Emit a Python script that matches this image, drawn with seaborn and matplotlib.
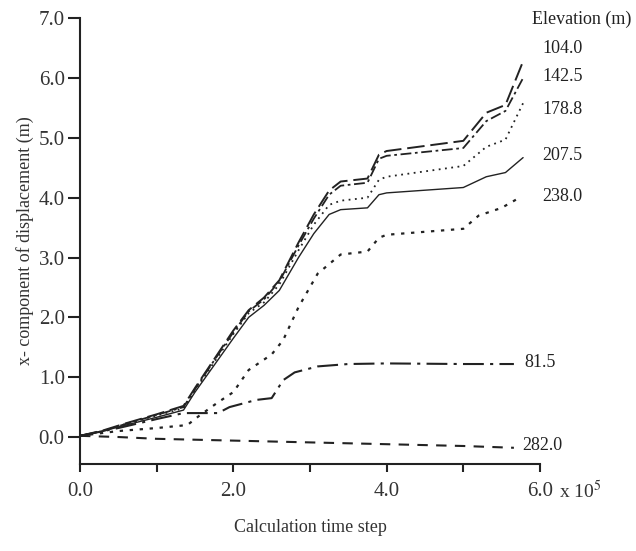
import numpy as np
import pandas as pd
import matplotlib
matplotlib.use("Agg")
import matplotlib.pyplot as plt
import seaborn as sns

# ---- data ----
x_main = [0, 0.3, 0.6, 1.0, 1.35, 1.5, 1.75, 2.0, 2.2, 2.4, 2.6, 2.85, 3.05, 3.25, 3.4, 3.75, 3.9, 4.0, 5.0, 5.3, 5.55, 5.78]
y_104 = [0.02, 0.11, 0.23, 0.38, 0.52, 0.82, 1.30, 1.78, 2.12, 2.33, 2.62, 3.25, 3.72, 4.12, 4.27, 4.32, 4.72, 4.78, 4.95, 5.42, 5.55, 6.28]
y_142 = [0.02, 0.10, 0.22, 0.37, 0.50, 0.80, 1.28, 1.75, 2.10, 2.30, 2.60, 3.20, 3.65, 4.05, 4.20, 4.25, 4.65, 4.70, 4.83, 5.28, 5.45, 6.00]
y_178 = [0.02, 0.10, 0.22, 0.36, 0.48, 0.78, 1.25, 1.72, 2.07, 2.25, 2.55, 3.12, 3.55, 3.88, 3.95, 4.00, 4.30, 4.35, 4.53, 4.85, 4.97, 5.58]
y_207 = [0.02, 0.10, 0.20, 0.33, 0.45, 0.75, 1.20, 1.65, 2.00, 2.20, 2.45, 3.00, 3.40, 3.72, 3.80, 3.83, 4.05, 4.08, 4.17, 4.35, 4.42, 4.67]

x_238 = [0, 0.5, 1.0, 1.4, 1.55, 1.8, 2.0, 2.2, 2.5, 2.65, 2.85, 3.1, 3.4, 3.75, 3.9, 4.0, 5.0, 5.2, 5.5, 5.76]
y_238 = [0.02, 0.10, 0.15, 0.20, 0.35, 0.58, 0.75, 1.12, 1.38, 1.62, 2.17, 2.73, 3.05, 3.10, 3.33, 3.38, 3.48, 3.70, 3.83, 4.02]

x_81 = [0, 0.5, 1.0, 1.35, 1.8, 1.95, 2.3, 2.5, 2.65, 2.8, 3.1, 3.5, 4.0, 5.0, 5.66]
y_81 = [0.02, 0.15, 0.30, 0.40, 0.40, 0.50, 0.62, 0.65, 0.95, 1.08, 1.18, 1.22, 1.23, 1.22, 1.22]

x_282 = [0, 0.5, 1.0, 2.0, 3.0, 4.0, 5.0, 5.66]
y_282 = [0.02, 0.0, -0.03, -0.06, -0.09, -0.12, -0.15, -0.18]

elev_labels = ["104.0", "142.5", "178.8", "207.5", "238.0", "81.5", "282.0"]
y_ticks = [0, 1, 2, 3, 4, 5, 6, 7]
y_ticklabels = ["0.0", "1.0", "2.0", "3.0", "4.0", "5.0", "6.0", "7.0"]
x_ticks = [0, 1, 2, 3, 4, 5, 6]
x_ticklabels = ["0.0", "", "2.0", "", "4.0", "", "6.0"]

sns.set_theme(style="ticks")
plt.rcParams["font.family"] = ["Liberation Serif", "DejaVu Serif"]
plt.rcParams["mathtext.fontset"] = "stix"

fig = plt.figure(figsize=(6.36, 5.51), dpi=100)
ax = fig.add_axes([0.1258, 0.158, 0.849 - 0.1258, 0.967 - 0.158])

series = [
    (x_main, y_104, (0, (9, 3)), 1.4),
    (x_main, y_142, (0, (6, 2, 1.5, 2)), 1.3),
    (x_main, y_178, (0, (1, 2.5)), 1.3),
    (x_main, y_207, "-", 1.0),
    (x_238, y_238, (0, (1.5, 3)), 1.6),
    (x_81, y_81, (0, (10, 3, 1.5, 3)), 1.5),
    (x_282, y_282, (0, (5, 4)), 1.5),
]
for xs, ys, ls, lw in series:
    df = pd.DataFrame({"x": xs, "y": ys})
    sns.lineplot(data=df, x="x", y="y", ax=ax, color="#222222",
                 linestyle=ls, linewidth=lw, estimator=None, sort=False)

ax.set_xlim(0, 6.0)
ax.set_ylim(-0.45, 7.0)
ax.set_yticks(y_ticks)
ax.set_yticklabels(y_ticklabels)
ax.set_xticks(x_ticks)
ax.set_xticklabels(x_ticklabels)
ax.tick_params(axis="y", direction="out", length=9, width=1.5, labelsize=15, pad=2, color="#222222", labelcolor="#333333")
ax.tick_params(axis="x", direction="out", length=6, width=1.5, labelsize=15, pad=7, color="#222222", labelcolor="#333333")
for s in ["top", "right"]:
    ax.spines[s].set_visible(False)
for s in ["left", "bottom"]:
    ax.spines[s].set_linewidth(1.5)
    ax.spines[s].set_color("#222222")

ax.set_xlabel("Calculation time step", fontsize=13, labelpad=13, color="#333333")
ax.set_ylabel("x- component of displacement (m)", fontsize=13, labelpad=3, color="#333333")

ax.text(6.25, -0.72, r"x 10$^5$", fontsize=14, ha="left", va="top", color="#333333", clip_on=False)

ax.text(5.9, 6.98, "Elevation (m)", fontsize=13, ha="left", va="center", color="#222222", clip_on=False)
label_pos = [(6.03, 6.5), (6.03, 6.03), (6.03, 5.48), (6.03, 4.7), (6.03, 4.02), (5.8, 1.25), (5.77, -0.15)]
for lab, (tx, ty) in zip(elev_labels, label_pos):
    ax.text(tx, ty, lab, fontsize=13, ha="left", va="center", color="#222222", clip_on=False)

fig.savefig("out.png", dpi=100)
